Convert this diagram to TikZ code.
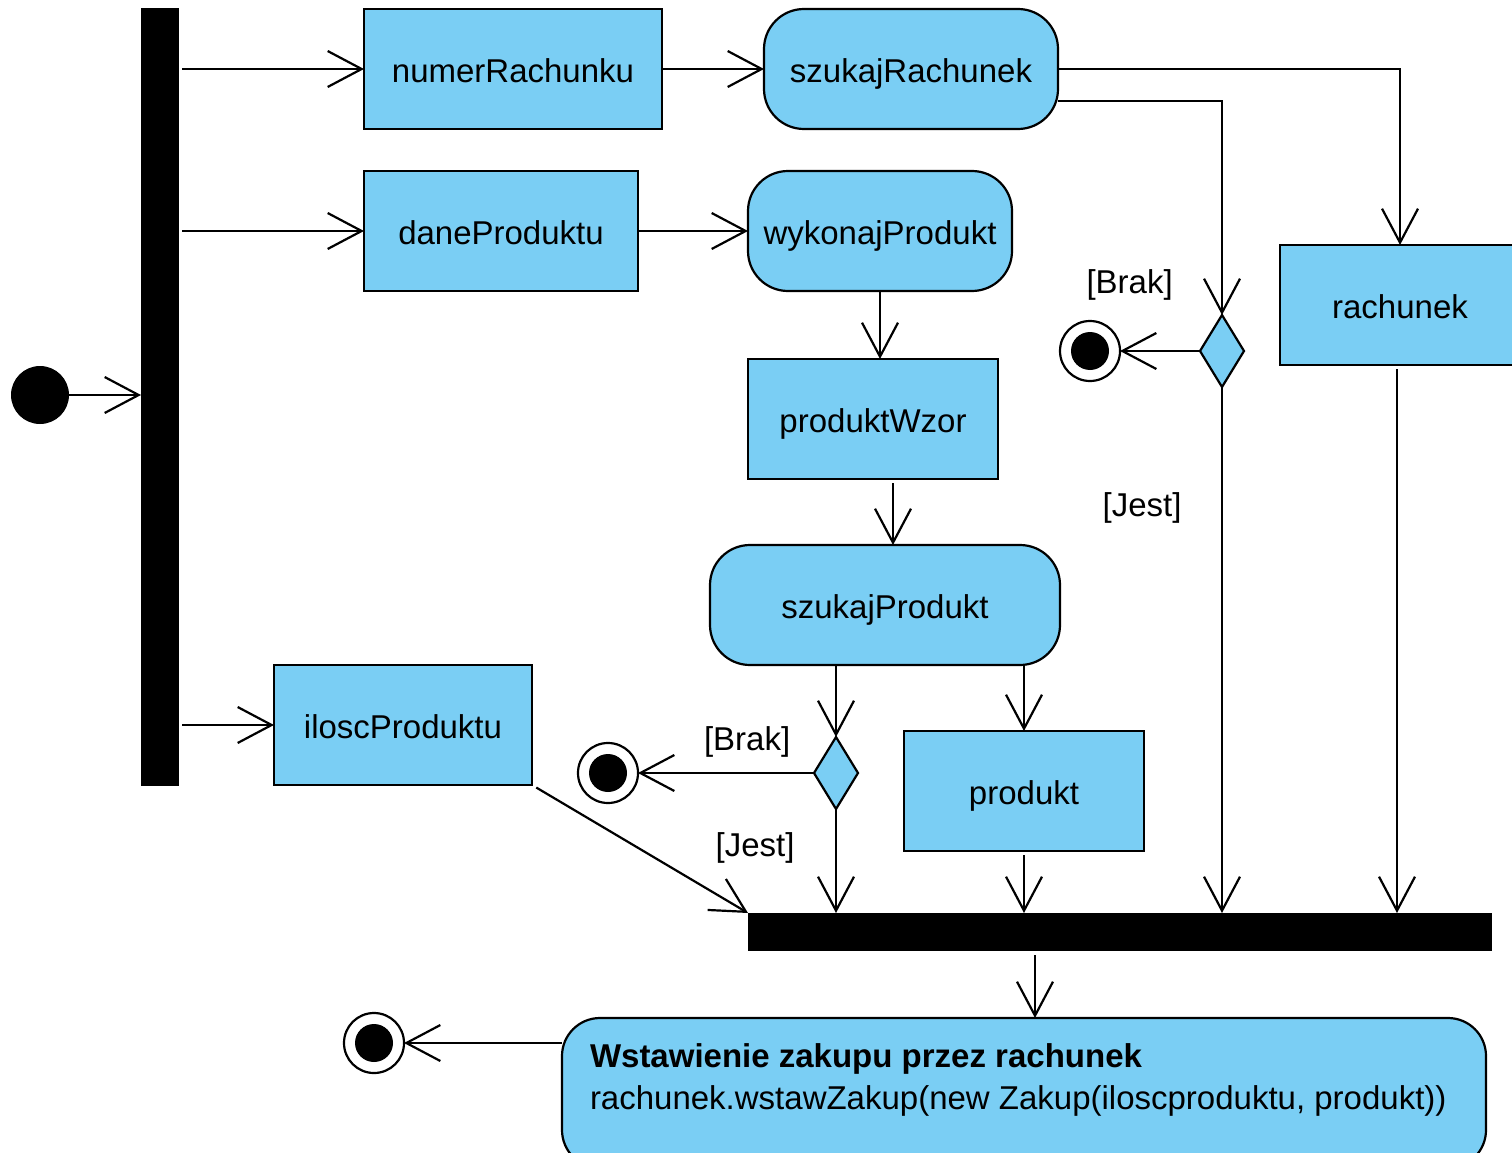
\documentclass[tikz,border=0pt]{standalone}
\usepackage{fontspec}
\setmainfont{Liberation Sans}
\usetikzlibrary{arrows.meta,shapes.geometric,calc}
\definecolor{actfill}{RGB}{122,206,244}
\begin{document}
\begin{tikzpicture}[x=1pt,y=-1pt,
  every node/.style={outer sep=0pt},
  txt/.style={font=\fontsize{33}{42}\selectfont},
  obj/.style={txt,draw,line width=2.2pt,fill=actfill,rectangle,inner sep=0pt,text height=27pt,text depth=0pt},
  act/.style={obj,rounded corners=40pt},
  bar/.style={fill=black,rectangle,inner sep=0pt},
  dec/.style={draw,line width=2.2pt,fill=actfill,diamond,inner sep=0pt,minimum width=44pt,minimum height=72pt},
  endnode/.style={draw,line width=2.2pt,fill=white,circle,inner sep=0pt,minimum size=60pt},
  startnode/.style={fill=black,circle,inner sep=0pt,minimum size=58pt},
  flow/.style={line width=2.2pt,-{Straight Barb[length=34pt,width=36pt]}},
  guard/.style={txt,inner sep=0pt}]
\useasboundingbox (0,0) rectangle (1512,1153);
\clip (0,0) rectangle (1512,1153);

% start node and fork
\node[startnode] (init) at (40,395) {};
\node[bar,minimum width=38pt,minimum height=778pt] (fork) at (160,397) {};

% object and action nodes
\node[obj,minimum width=298pt,minimum height=120pt] (numR) at (513,69) {numerRachunku};
\node[obj,minimum width=274pt,minimum height=120pt] (daneP) at (501,231) {daneProduktu};
\node[obj,minimum width=258pt,minimum height=120pt] (ilosc) at (403,725) {iloscProduktu};
\node[act,minimum width=294pt,minimum height=120pt] (szR) at (911,69) {szukajRachunek};
\node[act,minimum width=264pt,minimum height=120pt] (wykP) at (880,231) {wykonajProdukt};
\node[obj,minimum width=250pt,minimum height=120pt] (pWzor) at (873,419) {produktWzor};
\node[act,minimum width=350pt,minimum height=120pt] (szP) at (885,605) {szukajProdukt};
\node[obj,minimum width=240pt,minimum height=120pt] (produkt) at (1024,791) {produkt};
\node[obj,minimum width=240pt,minimum height=120pt] (rachunek) at (1400,305) {rachunek};

% decisions and final nodes
\node[dec] (d1) at (1222,351) {};
\node[endnode] (f1) at (1090,351) {};
\fill (f1) circle (19pt);
\node[dec] (d2) at (836,773) {};
\node[endnode] (f2) at (608,773) {};
\fill (f2) circle (19pt);

% join bar and final action
\node[bar,minimum width=744pt,minimum height=38pt] (join) at (1120,932) {};
\node[act,rounded corners=38pt,minimum width=924pt,minimum height=150pt] (final) at (1024,1093) {};
\node[txt,anchor=north west,align=left,inner sep=0pt] (finaltext) at (590,1044)
  {\textbf{Wstawienie zakupu przez rachunek}\\rachunek.wstawZakup(new Zakup(iloscproduktu, produkt))};
\node[endnode] (f3) at (374,1043) {};
\fill (f3) circle (19pt);

% control flows
\draw[flow] (init) -- (init -| fork.west);
\draw[flow,shorten <=3pt] (fork.east |- numR) -- (numR.west);
\draw[flow,shorten <=3pt] (fork.east |- daneP) -- (daneP.west);
\draw[flow,shorten <=3pt] (fork.east |- ilosc) -- (ilosc.west);
\draw[flow] (numR.east) -- (szR.west);
\draw[flow] (daneP.east) -- (wykP.west);
\draw[flow] (szR.east) -| (rachunek.north);
\draw[flow] ([yshift=-32pt]szR.east) -| (d1.north);
\draw[flow] (d1.west) -- node[guard,pos=0.88,yshift=66pt] {[Brak]} (f1.east);
\draw[flow] (d1.south) -- node[guard,pos=0.23,xshift=-80pt] {[Jest]} (d1.south |- join.north);
\draw[flow,shorten <=4pt] ([xshift=-3pt]rachunek.south) -- ([xshift=-3pt]rachunek.south |- join.north);
\draw[flow] (wykP.south) -- (wykP.south |- pWzor.north);
\draw[flow,shorten <=4pt] ([xshift=20pt]pWzor.south) -- ([xshift=20pt]pWzor.south |- szP.north);
\draw[flow] (d2.north |- szP.south) -- (d2.north);
\draw[flow] (produkt.north |- szP.south) -- (produkt.north);
\draw[flow] (d2.west) -- node[guard,pos=0.38,yshift=31pt] {[Brak]} (f2.east);
\draw[flow] (d2.south) -- node[guard,pos=0.375,xshift=-81pt] {[Jest]} (d2.south |- join.north);
\draw[flow,shorten <=4pt] (produkt.south) -- (produkt.south |- join.north);
\draw[flow,shorten <=5pt] (ilosc.south east) -- (join.north west);
\draw[flow,shorten <=4pt] ([xshift=-85pt]join.south) -- ([xshift=-85pt]join.south |- final.north);
\draw[flow] (final.west |- f3) -- (f3.east);
\end{tikzpicture}
\end{document}
